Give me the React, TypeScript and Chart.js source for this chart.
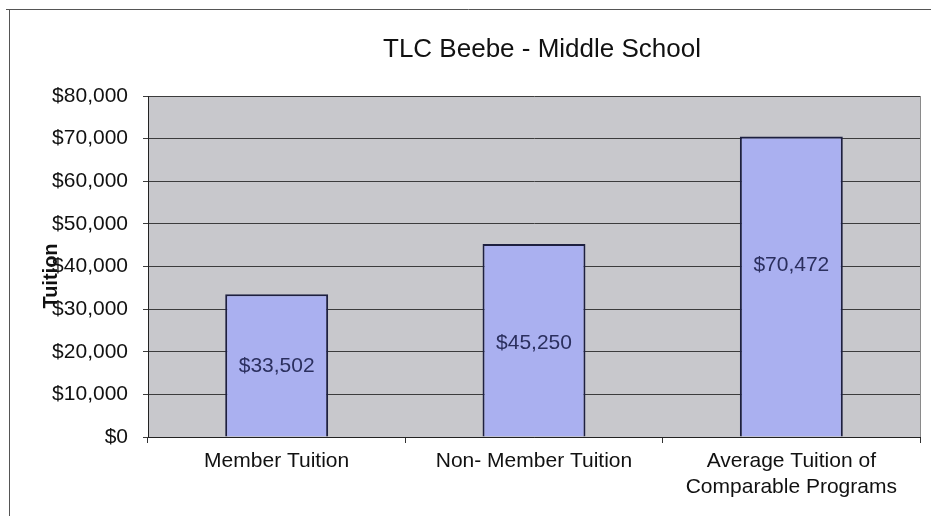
import React, { useEffect, useRef } from "react";
import { Chart, registerables } from "chart.js";

Chart.register(...registerables);

const chartTitle = "TLC Beebe - Middle School";
const yAxisTitle = "Tuition";
const categories: (string | string[])[] = [
  "Member Tuition",
  "Non- Member Tuition",
  ["Average Tuition of", "Comparable Programs"],
];
const tuitionValues = [33502, 45250, 70472];
const yMin = 0;
const yMax = 80000;
const yStep = 10000;

const FONT = "'Liberation Sans', Arial, sans-serif";

function money(v: number): string {
  return "$" + String(Math.round(v)).replace(/\B(?=(\d{3})+(?!\d))/g, ",");
}

const decorPlugin = {
  id: "decor",
  beforeDraw(chart: any) {
    const { ctx, chartArea } = chart;
    ctx.save();
    ctx.strokeStyle = "#555555";
    ctx.lineWidth = 1;
    ctx.beginPath();
    ctx.moveTo(6, 9.5);
    ctx.lineTo(931, 9.5);
    ctx.moveTo(9.5, 9);
    ctx.lineTo(9.5, 516);
    ctx.stroke();
    ctx.fillStyle = "#c8c8cc";
    ctx.fillRect(chartArea.left, chartArea.top, chartArea.right - chartArea.left, chartArea.bottom - chartArea.top);
    ctx.strokeStyle = "#8a8a8a";
    ctx.beginPath();
    ctx.moveTo(chartArea.right + 0.5, chartArea.top);
    ctx.lineTo(chartArea.right + 0.5, chartArea.bottom);
    ctx.stroke();
    ctx.restore();
  },
  afterDraw(chart: any) {
    const { ctx } = chart;
    ctx.save();
    ctx.fillStyle = "#111111";
    ctx.font = `26px ${FONT}`;
    ctx.textAlign = "center";
    ctx.textBaseline = "alphabetic";
    ctx.fillText(chartTitle, 542, 56.5);
    ctx.save();
    ctx.translate(51.5, 276);
    ctx.rotate(-Math.PI / 2);
    ctx.font = `bold 20px ${FONT}`;
    ctx.textBaseline = "middle";
    ctx.fillText(yAxisTitle, 0, 0);
    ctx.restore();
    const meta = chart.getDatasetMeta(0);
    ctx.font = `21px ${FONT}`;
    ctx.fillStyle = "#2b2f5e";
    ctx.textAlign = "center";
    ctx.textBaseline = "middle";
    const shift = [1, 3, -21];
    meta.data.forEach((bar: any, i: number) => {
      const yc = (bar.y + bar.base) / 2;
      ctx.fillText(money(tuitionValues[i]), bar.x, yc + shift[i]);
    });
    ctx.restore();
  },
};

export default function App() {
  const canvasRef = useRef<HTMLCanvasElement | null>(null);

  useEffect(() => {
    const canvas = canvasRef.current;
    if (!canvas) return;
    const chart = new Chart(canvas, {
      type: "bar",
      data: {
        labels: categories,
        datasets: [
          {
            label: yAxisTitle,
            data: tuitionValues,
            backgroundColor: "#aab0f0",
            borderColor: "#1e2040",
            borderWidth: 2,
            categoryPercentage: 1,
            barPercentage: 0.4,
          },
        ],
      },
      options: {
        responsive: false,
        animation: false,
        devicePixelRatio: 1,
        layout: { padding: { top: 96, right: 11, left: 0, bottom: 0 } },
        plugins: {
          legend: { display: false },
          title: { display: false },
          tooltip: { enabled: false },
        },
        scales: {
          x: {
            grid: {
              display: true,
              drawOnChartArea: false,
              drawTicks: true,
              tickLength: 6,
              color: "#333333",
              offset: true,
            },
            border: { display: true, color: "#222222", width: 1 },
            ticks: {
              font: { family: FONT, size: 21, lineHeight: 1.2 },
              color: "#111111",
              padding: 6,
              maxRotation: 0,
              autoSkip: false,
            },
            afterFit(scale: any) {
              scale.height = 79;
            },
          },
          y: {
            min: yMin,
            max: yMax,
            grid: {
              color: "#3c3c3c",
              lineWidth: 1,
              tickLength: 5,
              drawTicks: true,
            },
            border: { display: true, color: "#222222", width: 1 },
            ticks: {
              stepSize: yStep,
              font: { family: FONT, size: 21 },
              color: "#111111",
              padding: 15,
              callback: (v: any) => money(Number(v)),
            },
            afterFit(scale: any) {
              scale.width = 148;
            },
          },
        },
      },
      plugins: [decorPlugin],
    });
    return () => chart.destroy();
  }, []);

  return (
    <div style={{ position: "absolute", left: 0, top: 0, width: 931, height: 516, background: "#ffffff" }}>
      <canvas ref={canvasRef} width={931} height={516} />
    </div>
  );
}
